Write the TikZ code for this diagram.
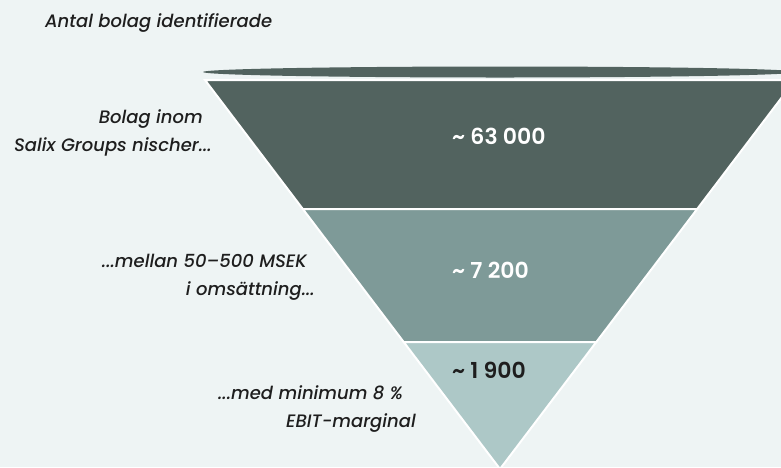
\documentclass[tikz,border=0pt]{standalone}
\usepackage{fontspec}
\setmainfont{Poppins}
\newfontfamily\notefont[Ligatures=TeX]{Poppins Medium Italic}
\newfontfamily\countfont{Poppins SemiBold}
\usetikzlibrary{calc}

\definecolor{bgc}{HTML}{EEF4F4}
\definecolor{bandA}{HTML}{52635F}
\definecolor{bandB}{HTML}{7E9A98}
\definecolor{bandC}{HTML}{ADC8C7}
\definecolor{inkc}{HTML}{1E1E1E}

\begin{document}
\begin{tikzpicture}[x=1pt,y=-1pt,
  band/.style={draw=white,line width=2pt,line join=miter},
  note/.style={font=\notefont\fontsize{18}{28}\selectfont,text=inkc,align=right,inner sep=0pt,anchor=east},
  count/.style={font=\countfont\fontsize{22}{24}\selectfont,anchor=west,inner sep=0pt}]

% Background
\fill[bgc] (0,0) rectangle (781,467);
\useasboundingbox (0,0) rectangle (781,467);
\clip (0,0) rectangle (781,467);

% Funnel corners
\coordinate (tl) at (205,80);
\coordinate (tr) at (795,80);
\coordinate (tip) at (500,469);
\coordinate (l1) at ($(tl)!0.332!(tip)$);
\coordinate (r1) at ($(tr)!0.332!(tip)$);
\coordinate (l2) at ($(tl)!0.674!(tip)$);
\coordinate (r2) at ($(tr)!0.674!(tip)$);

% Rim of the funnel
\fill[bandA] (500,72) ellipse [x radius=297, y radius=5.5];

% Bands
\filldraw[band,fill=bandA] (tl) -- (tr) -- (r1) -- (l1) -- cycle;
\filldraw[band,fill=bandB] (l1) -- (r1) -- (r2) -- (l2) -- cycle;
\filldraw[band,fill=bandC] (l2) -- (r2) -- (tip) -- cycle;

% Counts
\node[count,text=white] (n1) at (452,136) {\textasciitilde{} 63 000};
\node[count,text=white] (n2) at (452,270) {\textasciitilde{} 7 200};
\node[count,text=inkc] (n3) at (452,370) {\textasciitilde{} 1 900};

% Labels
\node[note,anchor=base west] (title) at (45,27) {Antal bolag identifierade};
\node[note] (s1) at (212,133) {Bolag inom\hspace*{9pt}\\Salix Groups nischer...};
\node[note] (s2) at (315,277) {...mellan 50–500 MSEK\hspace*{8pt}\\i omsättning...};
\node[note] (s3) at (416,409) {...med minimum 8 \%\hspace*{13pt}\\EBIT-marginal};
\end{tikzpicture}
\end{document}
